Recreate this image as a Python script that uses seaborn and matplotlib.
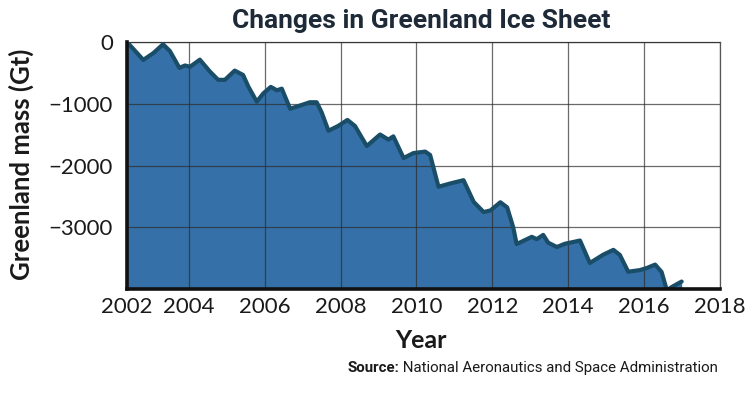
import matplotlib
matplotlib.use("Agg")
import matplotlib.pyplot as plt
from matplotlib import font_manager
import seaborn as sns
import pandas as pd

# ---- data ----
years = [2002.37, 2002.80, 2003.06, 2003.32, 2003.50, 2003.75, 2003.90, 2004.03, 2004.29, 2004.55,
         2004.77, 2004.95, 2005.21, 2005.43, 2005.57, 2005.79, 2005.96, 2006.16, 2006.32, 2006.45,
         2006.67, 2006.93, 2007.19, 2007.37, 2007.50, 2007.68, 2007.94, 2008.18, 2008.38, 2008.69,
         2009.04, 2009.26, 2009.39, 2009.66, 2009.92, 2010.23, 2010.36, 2010.58, 2010.89, 2011.24,
         2011.51, 2011.77, 2011.95, 2012.21, 2012.39, 2012.55, 2012.64, 2013.04, 2013.17, 2013.34,
         2013.47, 2013.70, 2013.91, 2014.31, 2014.57, 2014.92, 2015.19, 2015.36, 2015.58, 2015.89,
         2016.07, 2016.29, 2016.46, 2016.60, 2016.73, 2016.99]
mass = [0, -290, -182, -37, -146, -418, -380, -402, -286, -475,
        -612, -613, -463, -534, -724, -967, -834, -727, -782, -756,
        -1081, -1029, -975, -976, -1139, -1438, -1358, -1262, -1361, -1685,
        -1498, -1581, -1528, -1879, -1799, -1775, -1830, -2344, -2291, -2238,
        -2591, -2754, -2728, -2595, -2678, -3002, -3272, -3155, -3193, -3124,
        -3249, -3320, -3268, -3215, -3579, -3445, -3366, -3448, -3720, -3694,
        -3660, -3605, -3723, -4021, -3967, -3879]
x_ticks = [2002.37, 2004, 2006, 2008, 2010, 2012, 2014, 2016, 2018]
x_tick_labels = ["2002", "2004", "2006", "2008", "2010", "2012", "2014", "2016", "2018"]
y_ticks = [0, -1000, -2000, -3000]
y_tick_labels = ["0", "\u22121000", "\u22122000", "\u22123000"]

title = "Changes in Greenland Ice Sheet"
x_label = "Year"
y_label = "Greenland mass (Gt)"
source_bold = "Source:"
source_text = " National Aeronautics and Space Administration"

df = pd.DataFrame({"Year": years, "Mass": mass})

available = {f.name for f in font_manager.fontManager.ttflist}
def pick(*names):
    for n in names:
        if n in available:
            return n
    return "DejaVu Sans"

main_font = pick("Lato", "Open Sans", "DejaVu Sans")
title_font = pick("Roboto", "Lato")
src_font = pick("Roboto", "Lato")

sns.set_theme(style="white")
plt.rcParams["font.family"] = [main_font, "DejaVu Sans"]

fig = plt.figure(figsize=(7.56, 3.98), dpi=100)
ax = fig.add_axes([127 / 756, 1 - 289 / 398, (720 - 127) / 756, (289 - 42) / 398])

fill_color = "#3670a8"
line_color = "#1a4d68"
ax.fill_between(df["Year"], df["Mass"], -4200, color=fill_color, zorder=1, linewidth=0)
sns.lineplot(data=df, x="Year", y="Mass", ax=ax, color=line_color, linewidth=3,
             zorder=3, solid_joinstyle="round", solid_capstyle="round")

ax.set_xlim(2002.37, 2018)
ax.set_ylim(-4000, 0)
ax.set_xticks(x_ticks)
ax.set_xticklabels(x_tick_labels)
ax.set_yticks(y_ticks)
ax.set_yticklabels(y_tick_labels)
ax.tick_params(axis="both", length=0, labelsize=16, colors="#1a1a1a")
ax.tick_params(axis="x", pad=6)
ax.tick_params(axis="y", pad=10)
ax.set_xlabel("")
ax.set_ylabel("")

ax.set_axisbelow(False)
ax.grid(True, color="#2b2b2b", alpha=0.7, linewidth=0.9, zorder=2)

for side in ["top", "right"]:
    ax.spines[side].set_color("#555555")
    ax.spines[side].set_linewidth(0.9)
for side in ["left", "bottom"]:
    ax.spines[side].set_color("#111111")
    ax.spines[side].set_linewidth(2.6)
    ax.spines[side].set_zorder(4)

fig.text(421 / 756, 1 - 21 / 398, title, ha="center", va="center",
         fontsize=19, fontweight="bold", color="#1e2a38", family=[title_font, "DejaVu Sans"])
fig.text(421 / 756, 1 - 340 / 398, x_label, ha="center", va="center",
         fontsize=18, fontweight="bold", color="#1a1a1a")
fig.text(21 / 756, 1 - 164 / 398, y_label, ha="center", va="center", rotation=90,
         fontsize=18.5, fontweight="bold", color="#1a1a1a")

t1 = fig.text(347 / 756, 1 - 368 / 398, source_bold, ha="left", va="center",
              fontsize=10.8, fontweight="bold", color="#1a1a1a", family=[src_font, "DejaVu Sans"])
ax.annotate(source_text, xy=(1, 0), xycoords=t1, ha="left", va="bottom",
            fontsize=10.8, color="#1a1a1a", family=[src_font, "DejaVu Sans"],
            annotation_clip=False)

fig.savefig("out.png", dpi=100)
